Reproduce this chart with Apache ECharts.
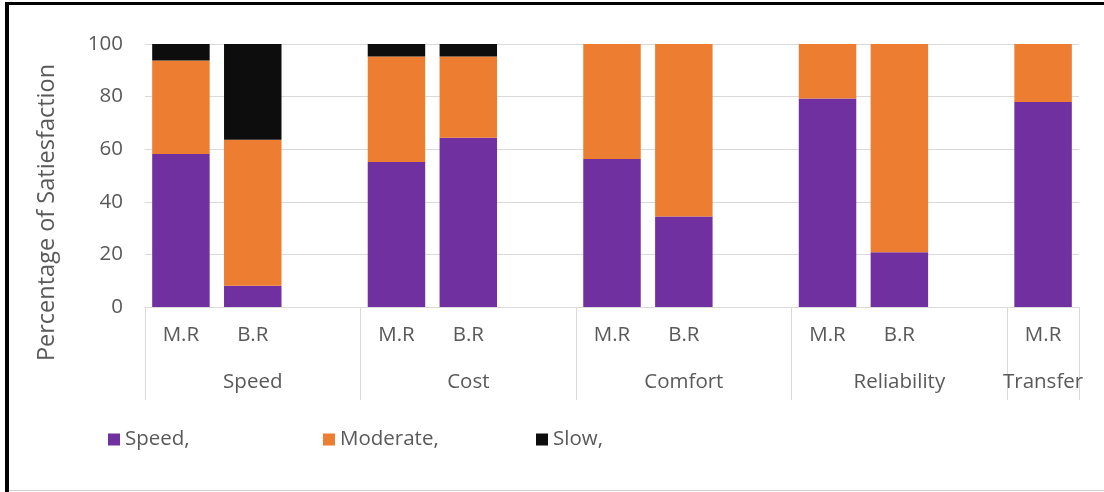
<!DOCTYPE html>
<html>
<head>
<meta charset="utf-8">
<script src="https://cdn.jsdelivr.net/npm/echarts@6/dist/echarts.min.js"></script>
<style>
html,body{margin:0;padding:0;background:#fff;}
#wrap{position:relative;width:1104px;height:492px;overflow:hidden;background:#fff;}
#chart{position:absolute;left:0;top:0;width:1104px;height:492px;}
#fl{position:absolute;left:5px;top:2px;width:4px;height:490px;background:#000;}
#ft{position:absolute;left:5px;top:2px;width:1099px;height:3px;background:#000;}
#fb{position:absolute;left:9px;top:490px;width:1095px;height:1px;background:#d0d0d0;}
</style>
</head>
<body>
<div id="wrap"><div id="chart"></div><div id="fl"></div><div id="ft"></div><div id="fb"></div></div>
<script>
// Slots: each group has M.R, B.R and an empty spacer slot (Excel multi-level category)
var subLabels   = ['M.R','B.R','','M.R','B.R','','M.R','B.R','','M.R','B.R','','M.R'];
var groupLabels = ['','Speed','','','Cost','','','Comfort','','','Reliability','','Transfer'];
var groupStarts = [0,3,6,9,12];
var seriesNames = ['Speed,','Moderate,','Slow,'];
var speedVals    = [58.2, 8.1, null, 55.1, 64.4, null, 56.3, 34.4, null, 79.3, 20.8, null, 77.9];
var moderateVals = [35.5, 55.5, null, 40.1, 30.8, null, 43.7, 65.6, null, 20.7, 79.2, null, 22.1];
var slowVals     = [6.3, 36.4, null, 4.8, 4.8, null, 0, 0, null, 0, 0, null, 0];
var yTicks = [0,20,40,60,80,100];

var FONT = '"Open Sans", "Noto Sans", sans-serif';
var GRAY = '#595959';
var colors = ['#7030A0','#ED7D31','#0D0D0D'];
var FS = 20.5;

var chart = echarts.init(document.getElementById('chart'), null, {renderer:'canvas'});
function legend(i, left){
  return {
    data:[seriesNames[i]], left:left, top:424, itemWidth:12, itemHeight:12, itemGap:0,
    icon:'rect', textStyle:{color:GRAY, fontSize:FS, fontFamily:FONT}
  };
}
var option = {
  animation:false,
  color: colors,
  grid:{left:145, right:25, top:44, bottom:185, containLabel:false},
  legend:[legend(0,103), legend(1,318), legend(2,531)],
  xAxis:[{
    type:'category', data:subLabels, boundaryGap:true,
    axisLine:{show:true, lineStyle:{color:'#d9d9d9', width:1}},
    axisTick:{show:true, length:93, lineStyle:{color:'#d9d9d9', width:1},
      interval:function(idx){ return groupStarts.indexOf(idx) >= 0; }},
    axisLabel:{interval:0, color:GRAY, fontSize:FS, fontFamily:FONT, margin:18}
  },{
    type:'category', data:groupLabels, position:'bottom', offset:47, gridIndex:0,
    axisLine:{show:false}, axisTick:{show:false}, splitLine:{show:false},
    axisLabel:{interval:0, color:GRAY, fontSize:FS, fontFamily:FONT, margin:18}
  }],
  yAxis:{
    type:'value', min:yTicks[0], max:yTicks[yTicks.length-1], interval:20,
    name:'Percentage of Satiesfaction', nameLocation:'middle', nameGap:86,
    nameTextStyle:{color:GRAY, fontSize:23.5, fontFamily:FONT, padding:[0,74,0,0]},
    axisLine:{show:false}, axisTick:{show:false},
    axisLabel:{color:GRAY, fontSize:FS, fontFamily:FONT, margin:22},
    splitLine:{lineStyle:{color:'#d9d9d9', width:1}}
  },
  series:[
    {name:seriesNames[0], type:'bar', stack:'s', data:speedVals, barCategoryGap:'20%', itemStyle:{color:colors[0]}},
    {name:seriesNames[1], type:'bar', stack:'s', data:moderateVals, barCategoryGap:'20%', itemStyle:{color:colors[1]}},
    {name:seriesNames[2], type:'bar', stack:'s', data:slowVals, barCategoryGap:'20%', itemStyle:{color:colors[2]}}
  ]
};
chart.setOption(option);
</script>
</body>
</html>
